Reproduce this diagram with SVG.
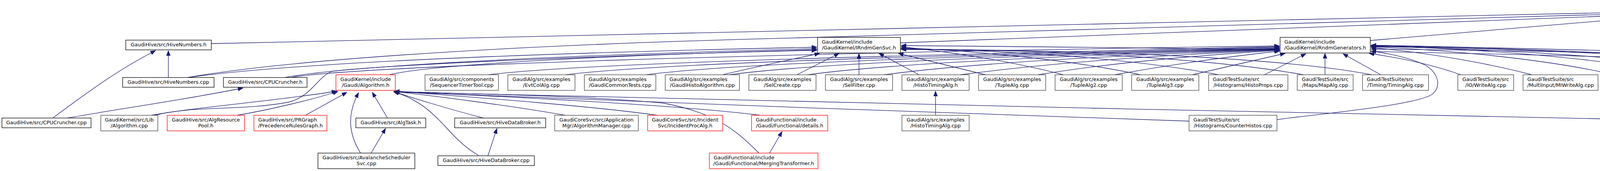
<svg xmlns="http://www.w3.org/2000/svg" width="6174" height="439" viewBox="0 0 6174 439">
<style>
rect{fill:#fff;stroke-width:1.3}
.nb{stroke:#000}
.ng{stroke:#404040}
.nr{stroke:#ff0000}
.root{fill:#bfbfbf;stroke:#404040}
text{font-family:"DejaVu Sans","Liberation Sans",sans-serif;font-size:12.9px;fill:#000}
.c{text-anchor:middle}
.l{text-anchor:start}
#edges path{fill:none;stroke:#191970;stroke-width:1.3;marker-end:url(#ah)}
</style>
<defs>
<marker id="ah" markerUnits="userSpaceOnUse" markerWidth="14" markerHeight="11" refX="13" refY="5" orient="auto">
<path d="M0,0 L13,5 L0,10 z" fill="#191970" stroke="#191970" stroke-width="1"/>
</marker>
</defs>
<g id="edges">
<path d="M541,112 L4281,29"/>
<path d="M480,199 C700,160 1200,118 2050,97 L4281,32"/>
<path d="M2305,110 L4281,35"/>
<path d="M3508,104 L4281,38"/>
<path d="M4378,192 L4378,48"/>
<path d="M5333,192 C5300,140 5260,95 5180,80 C5000,50 4700,35 4475,31"/>
<path d="M5505,192 C5420,145 5300,100 5150,78 C4900,45 4650,34 4475,31"/>
<path d="M5733,192 C5650,160 5450,100 5200,75 C4950,50 4650,34 4475,31"/>
<path d="M4726,307 C4900,295 5080,275 5140,240 C5170,215 5150,170 5090,150 C4900,80 4650,45 4475,33"/>
<path d="M135,303 C220,240 300,180 398,130"/>
<path d="M431,199 L431,130"/>
<path d="M173,303 C300,280 450,260 622,226"/>
<path d="M481,199 C700,168 1200,140 2091,121"/>
<path d="M730,199 C850,175 1300,145 2091,125"/>
<path d="M997,192 C1100,165 1600,140 2091,128"/>
<path d="M395,296 C500,270 620,285 740,262 C800,245 810,200 850,183 C1000,165 1600,140 2091,129"/>
<path d="M1850,192 C1950,168 2040,150 2098,137"/>
<path d="M2040,192 L2148,137"/>
<path d="M2199,192 L2199,137"/>
<path d="M2353,192 L2250,137"/>
<path d="M2523,192 L2300,137"/>
<path d="M2722,192 C2600,160 2450,135 2307,120"/>
<path d="M2920,192 C2750,155 2500,130 2307,123"/>
<path d="M3120,192 C2900,150 2600,130 2307,125"/>
<path d="M3338,192 C3100,150 2700,128 2307,126"/>
<path d="M3512,192 C3300,150 2800,127 2307,127"/>
<path d="M5252,197 C5000,170 4000,130 2307,117"/>
<path d="M745,199 C900,170 2000,135 3275,118"/>
<path d="M1250,192 C1500,160 2400,140 3275,120"/>
<path d="M1448,192 C1700,160 2500,140 3275,122"/>
<path d="M1653,192 C1900,160 2600,140 3275,124"/>
<path d="M1867,192 C2100,160 2700,140 3275,125"/>
<path d="M2067,192 C2300,160 2800,140 3275,126"/>
<path d="M2263,192 C2500,160 2900,140 3275,127"/>
<path d="M2458,192 C2700,160 3000,140 3275,128"/>
<path d="M2657,192 C2850,160 3100,140 3275,129"/>
<path d="M2853,192 C3000,165 3150,145 3276,131"/>
<path d="M3052,192 L3290,137"/>
<path d="M3237,192 L3343,138"/>
<path d="M3392,192 L3392,137"/>
<path d="M3535,192 L3438,138"/>
<path d="M3740,192 C3650,160 3560,145 3505,137"/>
<path d="M3922,192 C3800,160 3650,135 3510,122"/>
<path d="M4133,192 C3950,150 3700,128 3510,120"/>
<path d="M4318,192 C4100,150 3800,125 3510,118"/>
<path d="M4483,186 C4200,150 3850,125 3510,119"/>
<path d="M4772,192 C4500,150 3900,125 3510,118"/>
<path d="M4990,199 C4700,160 4000,125 3510,117"/>
<path d="M5487,192 C5300,160 4200,130 3510,116"/>
<path d="M5507,407 C5300,395 5190,370 5175,320 C5160,270 5180,200 5100,175 C4800,150 4000,130 3510,126"/>
<path d="M3269,307 C3400,290 3620,270 3665,243 C3690,225 3685,190 3650,168 C3610,148 3560,138 3510,131"/>
<path d="M387,296 C500,275 700,260 862,234"/>
<path d="M607,296 C700,280 800,255 865,235"/>
<path d="M782,296 L888,237"/>
<path d="M923,393 C890,340 890,290 918,238"/>
<path d="M992,303 L953,237"/>
<path d="M1237,303 C1150,280 1050,250 1008,235"/>
<path d="M1225,399 C1170,367 1140,320 1110,295 C1080,265 1040,245 1008,236"/>
<path d="M1447,296 C1300,270 1100,245 1010,235"/>
<path d="M1683,296 C1500,270 1150,245 1010,234"/>
<path d="M1947,296 C1700,265 1200,245 1010,234"/>
<path d="M1943,393 C1880,330 1830,290 1700,265 C1500,245 1150,240 1010,235"/>
<path d="M3044,311 C2500,290 1500,260 1010,236"/>
<path d="M4483,313 C3500,295 1800,255 1010,236"/>
<path d="M950,393 L987,330"/>
<path d="M1249,400 L1272,330"/>
<path d="M1970,393 L2002,338"/>
<path d="M2395,296 L2395,234"/>
<path d="M4604,289 L4604,241"/>
<path d="M5307,296 L5333,234"/>
<path d="M5543,393 C5480,360 5440,330 5420,305 C5400,280 5385,260 5368,235"/>
<path d="M5519,296 L5397,235"/>
<path d="M5717,296 L5433,234"/>
<path d="M5603,296 L5740,235"/>
<path d="M5791,296 L5791,234"/>
<path d="M5715,402 C5850,385 5910,360 5907,318 C5905,290 5880,260 5847,236"/>
<path d="M6002,296 L5855,235"/>
<path d="M5655,393 L5747,338"/>
</g>
<g id="n0"><rect class="root" x="4283" y="6" width="190" height="40"/><text class="l" x="4294" y="22">GaudiKernel/include</text><text class="c" x="4378" y="37">/GaudiKernel/IRndmGen.h</text></g>
<g id="n1"><rect class="nb" x="322" y="103" width="219" height="25"/><text class="c" x="431.5" y="119">GaudiHive/src/HiveNumbers.h</text></g>
<g id="n2"><rect class="nb" x="2093" y="96" width="212" height="40"/><text class="l" x="2104" y="112">GaudiKernel/include</text><text class="c" x="2199" y="127">/GaudiKernel/IRndmGenSvc.h</text></g>
<g id="n3"><rect class="nb" x="3277" y="96" width="231" height="40"/><text class="l" x="3288" y="112">GaudiKernel/include</text><text class="c" x="3392.5" y="127">/GaudiKernel/RndmGenerators.h</text></g>
<g id="n4"><rect class="nb" x="314" y="199" width="234" height="25"/><text class="c" x="431" y="215">GaudiHive/src/HiveNumbers.cpp</text></g>
<g id="n5"><rect class="nb" x="572" y="199" width="214" height="25"/><text class="c" x="679" y="215">GaudiHive/src/CPUCruncher.h</text></g>
<g id="n6"><rect class="nr" x="860" y="192" width="152" height="40"/><text class="c" x="936" y="208">GaudiKernel/include</text><text class="c" x="936" y="223">/Gaudi/Algorithm.h</text></g>
<g id="n7"><rect class="ng" x="1088" y="192" width="188" height="40"/><text class="c" x="1182" y="208">GaudiAlg/src/components</text><text class="c" x="1182" y="223">/SequencerTimerTool.cpp</text></g>
<g id="n8"><rect class="ng" x="1300" y="192" width="172" height="40"/><text class="c" x="1386" y="208">GaudiAlg/src/examples</text><text class="c" x="1386" y="223">/EvtColAlg.cpp</text></g>
<g id="n9"><rect class="ng" x="1496" y="192" width="183" height="40"/><text class="l" x="1507" y="208">GaudiAlg/src/examples</text><text class="c" x="1587.5" y="223">/GaudiCommonTests.cpp</text></g>
<g id="n10"><rect class="ng" x="1703" y="192" width="190" height="40"/><text class="l" x="1714" y="208">GaudiAlg/src/examples</text><text class="c" x="1798" y="223">/GaudiHistoAlgorithm.cpp</text></g>
<g id="n11"><rect class="ng" x="1917" y="192" width="172" height="40"/><text class="c" x="2003" y="208">GaudiAlg/src/examples</text><text class="c" x="2003" y="223">/SelCreate.cpp</text></g>
<g id="n12"><rect class="ng" x="2113" y="192" width="172" height="40"/><text class="c" x="2199" y="208">GaudiAlg/src/examples</text><text class="c" x="2199" y="223">/SelFilter.cpp</text></g>
<g id="n13"><rect class="ng" x="2309" y="192" width="172" height="40"/><text class="c" x="2395" y="208">GaudiAlg/src/examples</text><text class="c" x="2395" y="223">/HistoTimingAlg.h</text></g>
<g id="n14"><rect class="ng" x="2505" y="192" width="172" height="40"/><text class="c" x="2591" y="208">GaudiAlg/src/examples</text><text class="c" x="2591" y="223">/TupleAlg.cpp</text></g>
<g id="n15"><rect class="ng" x="2701" y="192" width="172" height="40"/><text class="c" x="2787" y="208">GaudiAlg/src/examples</text><text class="c" x="2787" y="223">/TupleAlg2.cpp</text></g>
<g id="n16"><rect class="ng" x="2897" y="192" width="172" height="40"/><text class="c" x="2983" y="208">GaudiAlg/src/examples</text><text class="c" x="2983" y="223">/TupleAlg3.cpp</text></g>
<g id="n17"><rect class="ng" x="3094" y="192" width="203" height="40"/><text class="l" x="3105" y="208">GaudiTestSuite/src</text><text class="c" x="3195.5" y="223">/Histograms/HistoProps.cpp</text></g>
<g id="n18"><rect class="ng" x="3321" y="192" width="143" height="40"/><text class="c" x="3392.5" y="208">GaudiTestSuite/src</text><text class="c" x="3392.5" y="223">/Maps/MapAlg.cpp</text></g>
<g id="n19"><rect class="ng" x="3488" y="192" width="169" height="40"/><text class="l" x="3499" y="208">GaudiTestSuite/src</text><text class="c" x="3572.5" y="223">/Timing/TimingAlg.cpp</text></g>
<g id="n20"><rect class="ng" x="3732" y="192" width="143" height="40"/><text class="c" x="3803.5" y="208">GaudiTestSuite/src</text><text class="c" x="3803.5" y="223">/IO/WriteAlg.cpp</text></g>
<g id="n21"><rect class="ng" x="3899" y="192" width="192" height="40"/><text class="l" x="3910" y="208">GaudiTestSuite/src</text><text class="c" x="3995" y="223">/MultiInput/MIWriteAlg.cpp</text></g>
<g id="n22"><rect class="ng" x="4115" y="192" width="158" height="40"/><text class="l" x="4126" y="208">GaudiTestSuite/src</text><text class="c" x="4194" y="223">/THist/THistRead.cpp</text></g>
<g id="n23"><rect class="ng" x="4297" y="192" width="162" height="40"/><text class="l" x="4308" y="208">GaudiKernel/src/Lib</text><text class="c" x="4378" y="223">/RndmGenerators.cpp</text></g>
<g id="n24"><rect class="nb" x="4483" y="185" width="243" height="54"/><text class="l" x="4494" y="201">GaudiTestSuite/src</text><text class="l" x="4494" y="215.5">/RandomNumber/RandomNumber</text><text class="c" x="4604.5" y="230">Alg.h</text></g>
<g id="n25"><rect class="ng" x="4751" y="192" width="158" height="40"/><text class="l" x="4762" y="208">GaudiTestSuite/src</text><text class="c" x="4830" y="223">/THist/THistWrite.cpp</text></g>
<g id="n26"><rect class="nr" x="4933" y="199" width="198" height="25"/><text class="c" x="5032" y="215">GaudiHive/src/ViewTester.h</text></g>
<g id="n27"><rect class="nb" x="5252" y="192" width="191" height="40"/><text class="c" x="5347.5" y="208">GaudiSvc/src/RndmGenSvc</text><text class="c" x="5347.5" y="223">/RndmGenSvc.h</text></g>
<g id="n28"><rect class="ng" x="5466" y="192" width="149" height="40"/><text class="l" x="5477" y="208">GaudiKernel/src/Lib</text><text class="c" x="5540.5" y="223">/RndmTypeInfos.cpp</text></g>
<g id="n29"><rect class="nb" x="5696" y="192" width="190" height="40"/><text class="c" x="5791" y="208">GaudiSvc/src/RndmGenSvc</text><text class="c" x="5791" y="223">/RndmGen.h</text></g>
<g id="n30"><rect class="nb" x="5" y="303" width="228" height="25"/><text class="c" x="119" y="319">GaudiHive/src/CPUCruncher.cpp</text></g>
<g id="n31"><rect class="ng" x="258" y="296" width="146" height="40"/><text class="c" x="331" y="312">GaudiKernel/src/Lib</text><text class="c" x="331" y="327">/Algorithm.cpp</text></g>
<g id="n32"><rect class="nr" x="428" y="296" width="198" height="40"/><text class="c" x="527" y="312">GaudiHive/src/AlgResource</text><text class="c" x="527" y="327">Pool.h</text></g>
<g id="n33"><rect class="nr" x="650" y="296" width="187" height="40"/><text class="l" x="661" y="312">GaudiHive/src/PRGraph</text><text class="c" x="743.5" y="327">/PrecedenceRulesGraph.h</text></g>
<g id="n34"><rect class="nb" x="911" y="303" width="179" height="25"/><text class="c" x="1000.5" y="319">GaudiHive/src/AlgTask.h</text></g>
<g id="n35"><rect class="nb" x="1164" y="303" width="233" height="25"/><text class="c" x="1280.5" y="319">GaudiHive/src/HiveDataBroker.h</text></g>
<g id="n36"><rect class="ng" x="1420" y="296" width="214" height="40"/><text class="c" x="1527" y="312">GaudiCoreSvc/src/Application</text><text class="c" x="1527" y="327">Mgr/AlgorithmManager.cpp</text></g>
<g id="n37"><rect class="nr" x="1658" y="296" width="192" height="40"/><text class="c" x="1754" y="312">GaudiCoreSvc/src/Incident</text><text class="c" x="1754" y="327">Svc/IncidentProcAlg.h</text></g>
<g id="n38"><rect class="nr" x="1924" y="296" width="195" height="40"/><text class="l" x="1935" y="312">GaudiFunctional/include</text><text class="c" x="2021.5" y="327">/Gaudi/Functional/details.h</text></g>
<g id="n39"><rect class="ng" x="2309" y="296" width="172" height="40"/><text class="c" x="2395" y="312">GaudiAlg/src/examples</text><text class="c" x="2395" y="327">/HistoTimingAlg.cpp</text></g>
<g id="n40"><rect class="ng" x="3044" y="296" width="225" height="40"/><text class="l" x="3055" y="312">GaudiTestSuite/src</text><text class="c" x="3156.5" y="327">/Histograms/CounterHistos.cpp</text></g>
<g id="n41"><rect class="ng" x="4483" y="289" width="243" height="54"/><text class="l" x="4494" y="305">GaudiTestSuite/src</text><text class="l" x="4494" y="319.5">/RandomNumber/RandomNumber</text><text class="c" x="4604.5" y="334">Alg.cpp</text></g>
<g id="n42"><rect class="ng" x="5202" y="296" width="192" height="40"/><text class="c" x="5298" y="312">GaudiSvc/src/RndmGenSvc</text><text class="c" x="5298" y="327">/HepRndmEngines.cpp</text></g>
<g id="n43"><rect class="ng" x="5466" y="296" width="207" height="40"/><text class="c" x="5569.5" y="312">GaudiSvc/src/RndmGenSvc</text><text class="c" x="5569.5" y="327">/RndmGenSvc.cpp</text></g>
<g id="n44"><rect class="nb" x="5696" y="296" width="190" height="40"/><text class="c" x="5791" y="312">GaudiSvc/src/RndmGenSvc</text><text class="c" x="5791" y="327">/HepRndmGenerator.h</text></g>
<g id="n45"><rect class="ng" x="5958" y="296" width="190" height="40"/><text class="c" x="6053" y="312">GaudiSvc/src/RndmGenSvc</text><text class="c" x="6053" y="327">/RndmGen.cpp</text></g>
<g id="n46"><rect class="nb" x="814" y="393" width="248" height="40"/><text class="c" x="938" y="409">GaudiHive/src/AvalancheScheduler</text><text class="c" x="938" y="424">Svc.cpp</text></g>
<g id="n47"><rect class="nb" x="1121" y="400" width="247" height="25"/><text class="c" x="1244.5" y="416">GaudiHive/src/HiveDataBroker.cpp</text></g>
<g id="n48"><rect class="nr" x="1816" y="393" width="278" height="40"/><text class="l" x="1827" y="409">GaudiFunctional/include</text><text class="c" x="1955" y="424">/Gaudi/Functional/MergingTransformer.h</text></g>
<g id="n49"><rect class="nb" x="5507" y="393" width="208" height="40"/><text class="c" x="5611" y="409">GaudiSvc/src/RndmGenSvc</text><text class="c" x="5611" y="424">/HepRndmGenerators.cpp</text></g>
</svg>
